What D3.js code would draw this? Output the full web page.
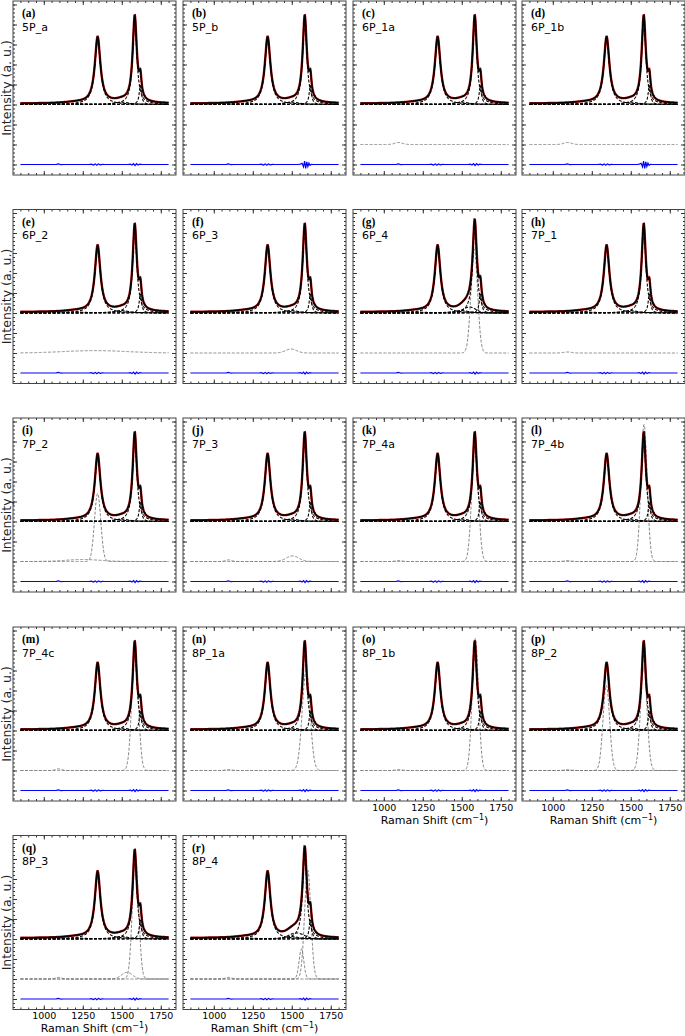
<!DOCTYPE html>
<html>
<head>
<meta charset="utf-8">
<script src="https://cdn.jsdelivr.net/npm/d3@7"></script>
<style>
  body { margin: 0; background: #fff; }
</style>
</head>
<body>
<div id="chart"></div>
<script>
// panel letters and sample names
const letters = ["a","b","c","d","e","f","g","h","i","j","k","l","m","n","o","p","q","r"];
const names = ["5P_a","5P_b","6P_1a","6P_1b","6P_2","6P_3","6P_4","7P_1","7P_2","7P_3",
               "7P_4a","7P_4b","7P_4c","8P_1a","8P_1b","8P_2","8P_3","8P_4"];

// fitted bands in the spectrum: [shape, centre (cm-1), width, height]
// L = lorentzian (half width), G = gaussian (sigma)
const mainPeaks = [
  ["L", 1200, 90, 0.05],
  ["L", 1345, 21.5, 3.3],
  ["L", 1500, 55, 0.12],
  ["L", 1583, 16, 4.3],
  ["L", 1619, 9, 0.95]
];
const baseLevel = 0.05;

// extra bands in the fit, per panel
const extraPeaks = [
  [], [], [], [], [], [], [["G", 1550, 40, 0.3]], [], [], [],
  [], [], [], [], [], [], [], [["G", 1530, 50, 0.3]]
];

// grey component drawn at offset -2, per panel
const greyPeaks = [
  [],
  [],
  [["G", 1095, 25, 0.1]],
  [["G", 1095, 25, 0.1]],
  [["G", 1330, 200, 0.12]],
  [["G", 1495, 35, 0.2]],
  [["G", 1580, 21, 5.2]],
  [["G", 1095, 25, 0.05]],
  [["G", 1250, 110, 0.1], ["G", 1345, 20, 3.4]],
  [["G", 1095, 20, 0.08], ["G", 1505, 40, 0.28]],
  [["G", 1095, 20, 0.05], ["G", 1585, 21, 5.8]],
  [["G", 1095, 20, 0.05], ["G", 1585, 20, 6.85]],
  [["G", 1095, 20, 0.08], ["G", 1585, 21, 5.9]],
  [["G", 1095, 20, 0.05], ["G", 1592, 25, 5.0]],
  [["G", 1095, 20, 0.05], ["G", 1587, 20, 6.6]],
  [["G", 1095, 20, 0.04], ["G", 1343, 21, 4.25], ["G", 1583, 21, 5.15]],
  [["G", 1095, 20, 0.08], ["G", 1533, 35, 0.33], ["G", 1588, 20, 6.05]],
  [["G", 1095, 20, 0.08], ["G", 1562, 15, 1.5], ["G", 1602, 20, 5.45]]
];

// residuals (measured - fit), drawn at offset -3
const residualQuiet = [[850,0],[1060,0],[1080,0.01],[1095,0.03],[1110,-0.01],[1125,0],[1290,0],
  [1305,0.02],[1318,-0.03],[1330,0.03],[1340,-0.04],[1350,0.03],[1362,-0.02],[1375,0.01],[1390,0],
  [1540,0],[1555,0.02],[1565,-0.03],[1575,0.04],[1585,-0.05],[1595,0.04],[1605,-0.03],[1615,0.02],
  [1630,0],[1800,0]];
const residualWiggle = [[850,0],[1060,0],[1080,0.01],[1095,0.03],[1110,-0.01],[1125,0],[1290,0],
  [1305,0.02],[1318,-0.03],[1330,0.03],[1340,-0.04],[1350,0.03],[1362,-0.02],[1375,0.01],[1390,0],
  [1540,0],[1555,0.02],[1566,0.06],[1575,-0.12],[1582,0.17],[1589,-0.2],[1596,0.13],[1603,-0.1],
  [1610,0.07],[1617,-0.04],[1626,0.01],[1640,0],[1800,0]];
const residualKind = [0,1,0,1,0,0,0,0,0,0,0,0,0,0,0,0,0,0];

const fitOffset = 0, greyOffset = -2, residOffset = -3;

// axis ticks
const xMajor = [1000, 1250, 1500, 1750];
const xMinor = d3.range(850, 1801, 50);
const yMajor = d3.range(-3, 6, 1);
const yMinor = d3.range(-3.4, 5.1, 0.2);
const bottomPanels = ["o", "p", "q", "r"];

const W = 685, H = 1036;
const colX = [13, 183, 353, 522];
const rowY = [1, 209.5, 418, 627, 835.5];
const pw = 163, ph = 174;

const svg = d3.select("#chart").append("svg")
    .attr("width", W).attr("height", H)
    .style("font-family", "DejaVu Sans");

function profile(p, v) {
  const [shape, c, w, h] = p;
  if (shape === "L") return h / (1 + ((v - c) / w) ** 2);
  return h * Math.exp(-((v - c) ** 2) / (2 * w * w));
}

const grid = d3.range(850, 1800.1, 2);

letters.forEach((letter, i) => {
  const col = i % 4, row = Math.floor(i / 4);
  const g = svg.append("g").attr("transform", `translate(${colX[col]},${rowY[row]})`);

  const x = d3.scaleLinear().domain([802.5, 1847.5]).range([0, pw]);
  const y = d3.scaleLinear().domain([-3.525, 5.175]).range([ph, 0]);
  const line = d3.line().x(d => x(d[0])).y(d => y(d[1]));

  g.append("clipPath").attr("id", "clip" + i)
    .append("rect").attr("width", pw).attr("height", ph);
  const plot = g.append("g").attr("clip-path", `url(#clip${i})`);

  const peaks = mainPeaks.concat(extraPeaks[i]);
  const envelope = grid.map(v => [v, fitOffset + baseLevel + d3.sum(peaks, p => profile(p, v))]);

  // grey component(s)
  greyPeaks[i].forEach(p => {
    plot.append("path")
      .datum(grid.map(v => [v, greyOffset + profile(p, v)]))
      .attr("fill", "none").attr("stroke", "#777").attr("stroke-width", 0.9)
      .attr("stroke-dasharray", "3,1.6")
      .attr("d", line);
  });

  // residual
  const resid = residualKind[i] ? residualWiggle : residualQuiet;
  plot.append("path")
    .datum(resid.map(d => [d[0], residOffset + d[1]]))
    .attr("fill", "none").attr("stroke", "#0000ff").attr("stroke-width", 1.2)
    .attr("d", line);

  // measured spectrum (red) and fit (black)
  plot.append("path").datum(envelope)
    .attr("fill", "none").attr("stroke", "#b01010").attr("stroke-width", 2.4)
    .attr("d", line);

  peaks.forEach(p => {
    plot.append("path")
      .datum(grid.map(v => [v, fitOffset + profile(p, v)]))
      .attr("fill", "none").attr("stroke", "#000").attr("stroke-width", 1.1)
      .attr("stroke-dasharray", "3,1.6")
      .attr("d", line);
  });

  plot.append("path").datum(envelope)
    .attr("fill", "none").attr("stroke", "#000").attr("stroke-width", 1.5)
    .attr("d", line);

  // ticks on all four sides, pointing in
  const showLabels = bottomPanels.includes(letter);
  const tickStyle = s => {
    s.select(".domain").remove();
    s.selectAll("line").attr("stroke", "#333");
  };
  g.append("g").attr("transform", `translate(0,${ph})`)
    .call(d3.axisBottom(x).tickValues(xMinor).tickSize(-2).tickFormat(""))
    .call(tickStyle);
  g.append("g").attr("transform", `translate(0,${ph})`)
    .call(d3.axisBottom(x).tickValues(xMajor).tickSize(-4).tickPadding(3)
      .tickFormat(showLabels ? d3.format("d") : ""))
    .call(tickStyle)
    .call(s => s.selectAll("text").attr("font-size", 9.5).attr("fill", "#000")
      .attr("font-family", "DejaVu Sans"));
  g.append("g")
    .call(d3.axisTop(x).tickValues(xMinor).tickSize(-2).tickFormat(""))
    .call(tickStyle);
  g.append("g")
    .call(d3.axisTop(x).tickValues(xMajor).tickSize(-4).tickFormat(""))
    .call(tickStyle);
  g.append("g")
    .call(d3.axisLeft(y).tickValues(yMinor).tickSize(-2).tickFormat(""))
    .call(tickStyle);
  g.append("g")
    .call(d3.axisLeft(y).tickValues(yMajor).tickSize(-4).tickFormat(""))
    .call(tickStyle);
  g.append("g").attr("transform", `translate(${pw},0)`)
    .call(d3.axisRight(y).tickValues(yMinor).tickSize(-2).tickFormat(""))
    .call(tickStyle);
  g.append("g").attr("transform", `translate(${pw},0)`)
    .call(d3.axisRight(y).tickValues(yMajor).tickSize(-4).tickFormat(""))
    .call(tickStyle);

  // frame
  g.append("rect").attr("width", pw).attr("height", ph)
    .attr("fill", "none").attr("stroke", "#444").attr("stroke-width", 1);

  // panel labels
  g.append("text").attr("x", 9).attr("y", 16)
    .attr("font-family", "Liberation Serif").attr("font-weight", "bold")
    .attr("font-size", 11.5).text(`(${letter})`);
  g.append("text").attr("x", 9).attr("y", 29.5)
    .attr("font-size", 11).text(names[i]);

  // x axis title
  if (showLabels) {
    const t = g.append("text").attr("x", pw / 2).attr("y", ph + 22.5)
      .attr("text-anchor", "middle").attr("font-size", 11);
    t.append("tspan").text("Raman Shift  (cm");
    t.append("tspan").attr("font-size", 8).attr("dy", -4).text("\u22121");
    t.append("tspan").attr("dy", 4).text(")");
  }
});

// y axis titles, one per row
rowY.forEach(top => {
  svg.append("text")
    .attr("transform", `translate(6.5,${top + ph / 2}) rotate(-90)`)
    .attr("text-anchor", "middle").attr("dominant-baseline", "central")
    .attr("font-size", 12.5).attr("fill", "#222")
    .text("Intensity (a. u.)");
});
</script>
</body>
</html>
